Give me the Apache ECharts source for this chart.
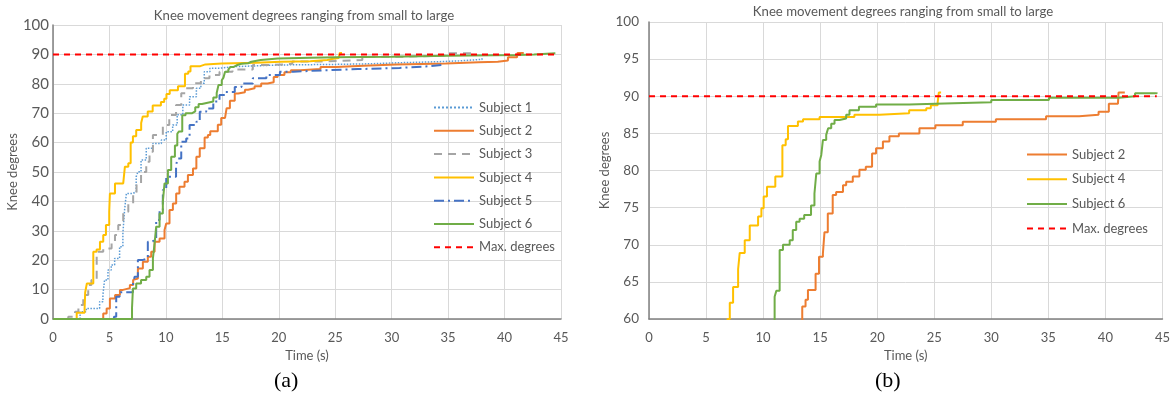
<!DOCTYPE html>
<html>
<head>
<meta charset="utf-8">
<script src="https://cdn.jsdelivr.net/npm/echarts@6/dist/echarts.min.js"></script>
<style>
  html, body { margin: 0; padding: 0; background: #fff; }
  #chart { width: 1173px; height: 399px; }
</style>
</head>
<body>
<div id="chart"></div>
<script>
// [time (s), knee degrees] - each point is where the step jumps to a new value
var subject1 = [[0,0],[2.4,2.5],[2.95,3.6],[4.13,5.9],[4.42,8.2],[4.57,13.3],[4.87,16.7],[5.16,18.4],[5.46,20.6],[5.9,24.6],[6.19,29.1],[6.34,37.1],[6.5,42.7],[7.08,43.3],[7.37,48.4],[7.52,50.1],[7.8,54.1],[8.26,58.1],[8.85,59.7],[9.6,60.9],[10.03,63.7],[10.6,66.0],[11.0,69.5],[11.5,72.8],[12.1,75.6],[12.7,78.5],[13.1,80.2],[13.4,84.1],[13.9,85.3],[14.75,85.8],[15.9,86.4],[20,86.6],[25,86.8],[28,87.2],[31,87.5],[34,87.8],[36,88.3],[38,88.7]];
var subject2 = [[0,0],[4.45,1.9],[4.75,3.6],[5.04,7.0],[5.5,8.2],[5.93,9.9],[6.2,10.5],[6.81,11.6],[7.1,13.3],[7.23,13.8],[7.52,17.2],[7.96,19.5],[8.4,21.2],[8.7,22.9],[9.0,26.3],[9.44,27.4],[9.88,30.3],[10.03,32.5],[10.32,37.1],[10.62,39.3],[10.91,42.7],[11.2,45.0],[11.65,46.7],[11.95,49.0],[12.4,51.2],[12.7,55.2],[13.0,58.1],[13.43,61.7],[13.72,62.6],[13.93,63.9],[14.6,66.1],[14.9,68.4],[15.24,68.8],[15.38,71.7],[15.67,74.2],[16.1,76.7],[16.4,77.1],[17.0,78.0],[17.28,78.5],[17.86,79.2],[18.44,80.1],[19.0,80.5],[19.55,82.3],[19.9,83.0],[20.5,83.9],[21.07,84.6],[21.9,85.0],[23.7,85.7],[25.1,86.1],[27.5,86.55],[30.4,86.9],[34.8,87.3],[37.7,87.5],[39.4,87.9],[40.3,89.0],[41.1,89.2],[41.15,90.5],[41.7,90.5]];
var subject3 = [[0,0],[1.35,0.8],[1.95,2.5],[2.25,4.8],[2.68,8.2],[3.12,11.6],[3.4,13.3],[3.87,22.9],[4.45,24.0],[5.19,26.3],[5.49,28.6],[5.78,32.0],[6.22,36.5],[6.67,39.3],[7.1,42.7],[7.4,46.1],[7.8,50.0],[8.26,53.5],[8.55,56.9],[8.85,62.6],[9.73,66.0],[10.3,69.4],[10.9,72.8],[11.36,76.8],[11.8,78.5],[12.4,80.2],[13.1,81.9],[13.86,83.0],[14.75,84.1],[15.9,84.9],[17.7,86.4],[19.5,86.8],[21.2,87.6],[24,88.1],[27.4,89.2],[31,89.6],[34.9,90.4],[37.2,90.4]];
var subject4 = [[0,0],[2.1,2.1],[2.8,3.6],[2.85,9.0],[3.0,12.1],[3.57,22.9],[3.86,23.6],[4.16,26.3],[4.45,28.6],[4.69,32.0],[4.98,36.5],[5.04,42.7],[5.49,46.1],[6.22,46.7],[6.37,51.8],[6.67,53.0],[6.88,60.0],[7.08,62.2],[7.37,64.3],[7.81,66.7],[7.95,68.9],[8.39,70.6],[8.83,72.6],[9.56,73.8],[9.85,74.9],[10.05,76.5],[10.34,77.8],[11.07,79.2],[11.69,83.4],[11.98,84.2],[12.18,86.0],[13.05,86.6],[13.5,86.9],[14.95,87.2],[18,87.5],[20.2,87.7],[22.8,88.1],[24.3,88.4],[24.7,88.8],[25.3,89.2],[25.4,90.5],[25.6,90.5]];
var subject5 = [[0,0],[5.4,0.8],[5.6,7.6],[5.9,9.1],[7.08,11.6],[7.23,14.4],[7.52,20.1],[7.96,20.6],[8.4,26.3],[8.7,26.9],[9.14,33.7],[9.44,37.1],[9.73,43.9],[10.03,48.4],[10.9,52.4],[11.06,54.6],[11.36,60.3],[11.8,61.4],[12.1,66.0],[12.7,67.1],[13.0,70.5],[13.57,71.6],[14.2,74.0],[14.75,76.2],[15.3,77.2],[16.1,78.9],[16.7,80.1],[17.7,81.9],[18.9,83.0],[20.1,84.1],[21.3,84.6],[24,85.0],[27,85.4],[30.7,85.9],[33,86.4],[34.4,86.4]];
var subject6 = [[0,0],[7.0,3.8],[7.08,10.4],[7.37,12.1],[7.8,13.3],[8.26,14.4],[8.55,16.7],[8.85,20.6],[9.0,25.7],[9.14,31.4],[9.44,35.9],[9.73,39.9],[9.88,46.1],[10.18,50.7],[10.47,55.2],[10.8,59.0],[11.01,63.0],[11.16,63.8],[11.45,69.3],[11.74,70.0],[12.33,70.6],[12.6,72.0],[12.9,73.1],[13.2,73.5],[13.6,74.0],[14.2,75.3],[14.5,76.9],[14.66,79.6],[14.95,81.2],[15.1,82.1],[15.24,84.1],[15.53,84.8],[15.7,85.7],[15.97,86.3],[16.26,86.8],[16.7,87.0],[17.28,87.5],[17.57,88.1],[18.4,88.6],[19.9,88.9],[22.8,89.0],[25.1,89.2],[30,89.5],[35.05,89.8],[41.2,90.0],[42.6,90.4],[44.5,90.5]];
var maxDegrees = [[0,90],[44.5,90]];

var titleText = 'Knee movement degrees ranging from small to large';
var legendA = ['Subject 1', 'Subject 2', 'Subject 3', 'Subject 4', 'Subject 5', 'Subject 6', 'Max. degrees'];
var legendB = ['Subject 2', 'Subject 4', 'Subject 6', 'Max. degrees'];

var FONT = 'Lato';
var colors = {
    'Subject 1': '#5B9BD5',
    'Subject 2': '#ED7D31',
    'Subject 3': '#A5A5A5',
    'Subject 4': '#FFC000',
    'Subject 5': '#4472C4',
    'Subject 6': '#70AD47',
    'Max. degrees': '#FF0000'
};
var lineTypes = {
    'Subject 1': { type: 'dotted', width: 1.5 },
    'Subject 2': { type: 'solid', width: 2 },
    'Subject 3': { type: [8, 6], width: 2 },
    'Subject 4': { type: 'solid', width: 2 },
    'Subject 5': { type: [10, 4, 2, 4], width: 2 },
    'Subject 6': { type: 'solid', width: 2 },
    'Max. degrees': { type: [6, 5], width: 2 }
};
var dataByName = {
    'Subject 1': subject1, 'Subject 2': subject2, 'Subject 3': subject3,
    'Subject 4': subject4, 'Subject 5': subject5, 'Subject 6': subject6,
    'Max. degrees': maxDegrees
};

function makeSeries(name, idx) {
    return {
        name: name,
        type: 'line',
        xAxisIndex: idx,
        yAxisIndex: idx,
        step: name === 'Max. degrees' ? false : 'end',
        showSymbol: false,
        symbol: 'none',
        silent: true,
        animation: false,
        clip: true,
        z: name === 'Max. degrees' ? 5 : 3,
        color: colors[name],
        lineStyle: { color: colors[name], width: lineTypes[name].width, type: lineTypes[name].type },
        data: dataByName[name]
    };
}

function xAxis(idx) {
    return {
        type: 'value', gridIndex: idx, min: 0, max: 45, interval: 5,
        name: 'Time (s)', nameLocation: 'middle', nameGap: 28,
        nameTextStyle: { color: '#595959', fontSize: 13, fontFamily: FONT },
        axisLine: { show: true, lineStyle: { color: '#808080', width: 1.5 } },
        axisTick: { show: false },
        axisLabel: { color: '#595959', fontSize: 13, fontFamily: FONT, margin: 12 },
        splitLine: { show: true, lineStyle: { color: '#D9D9D9', width: 1 } }
    };
}

function yAxis(idx, min, interval, gap, margin, size) {
    return {
        type: 'value', gridIndex: idx, min: min, max: 100, interval: interval,
        name: 'Knee degrees', nameLocation: 'middle', nameGap: gap, nameRotate: 90,
        nameTextStyle: { color: '#595959', fontSize: 13, fontFamily: FONT },
        axisLine: { show: true, lineStyle: { color: '#808080', width: 1.5 } },
        axisTick: { show: false },
        axisLabel: { color: '#595959', fontSize: size, fontFamily: FONT, margin: margin },
        splitLine: { show: true, lineStyle: { color: '#D9D9D9', width: 1 } }
    };
}

var series = [];
legendA.forEach(function (n) { series.push(makeSeries(n, 0)); });
legendB.forEach(function (n) { series.push(makeSeries(n, 1)); });

var legendBase = {
    orient: 'vertical', itemWidth: 40, itemHeight: 14, selectedMode: false,
    itemStyle: { color: 'transparent', borderColor: 'transparent', borderWidth: 0, opacity: 0 },
    textStyle: { color: '#595959', fontSize: 13, fontFamily: FONT }
};

var option = {
    backgroundColor: '#fff',
    animation: false,
    title: [
        { text: titleText, left: 299, top: 4, textAlign: 'center',
          textStyle: { color: '#595959', fontSize: 13.2, fontWeight: 'normal', fontFamily: FONT } },
        { text: titleText, left: 898, top: 0, textAlign: 'center',
          textStyle: { color: '#595959', fontSize: 13.2, fontWeight: 'normal', fontFamily: FONT } }
    ],
    grid: [
        { left: 53, top: 25, width: 508, height: 294 },
        { left: 649, top: 22, width: 515, height: 297 }
    ],
    legend: [
        Object.assign({}, legendBase, { data: legendA, left: 428, top: 96, itemGap: 10.3 }),
        Object.assign({}, legendBase, { data: legendB, left: 1021, top: 143, itemGap: 11.7 })
    ],
    xAxis: [xAxis(0), xAxis(1)],
    yAxis: [yAxis(0, 0, 10, 33, 4, 15), yAxis(1, 60, 5, 32, 10, 13.5)],
    series: series,
    graphic: [
        { type: 'text', left: 274, top: 370, style: { text: '(a)', fill: '#000', font: '22px "Liberation Serif"' } },
        { type: 'text', left: 875, top: 370, style: { text: '(b)', fill: '#000', font: '22px "Liberation Serif"' } }
    ]
};

var myChart = echarts.init(document.getElementById('chart'));
myChart.setOption(option);
</script>
</body>
</html>
